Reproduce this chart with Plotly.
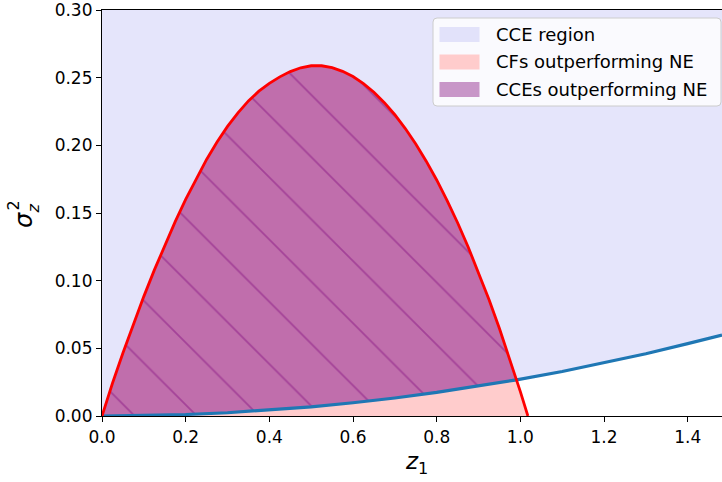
import numpy as np
import plotly.graph_objects as go

# ---- data -------------------------------------------------------------
# lower boundary of the CCE region (blue curve)
blue_z = [0.0, 0.1, 0.2, 0.3, 0.4, 0.5, 0.6, 0.7, 0.8, 0.9, 0.991,
          1.1, 1.2, 1.3, 1.4, 1.482]
blue_s = [0.0, 0.0003, 0.0011, 0.0024, 0.0044, 0.0068, 0.0098, 0.0133,
          0.0174, 0.0220, 0.0267, 0.0329, 0.0393, 0.0460, 0.0535, 0.0598]

# boundary of the region where CFs outperform NE (red curve)
red_z = [0.0, 0.01, 0.025, 0.05, 0.075, 0.1, 0.125, 0.15, 0.175, 0.2,
         0.225, 0.25, 0.275, 0.3, 0.325, 0.35, 0.375, 0.4, 0.425, 0.45,
         0.475, 0.5, 0.525, 0.55, 0.575, 0.6, 0.625, 0.65, 0.675, 0.7,
         0.725, 0.75, 0.775, 0.8, 0.825, 0.85, 0.875, 0.9, 0.925, 0.95,
         0.975, 0.991, 1.0, 1.018]
red_s = [0.0, 0.0100, 0.0242, 0.0466, 0.0680, 0.0884, 0.1078, 0.1262,
         0.1436, 0.1600, 0.1754, 0.1896, 0.2024, 0.2140, 0.2240, 0.2328,
         0.2400, 0.2458, 0.2506, 0.2545, 0.2573, 0.2588, 0.2588, 0.2574,
         0.2547, 0.2508, 0.2456, 0.2392, 0.2315, 0.2226, 0.2124, 0.2010,
         0.1883, 0.1744, 0.1592, 0.1428, 0.1251, 0.1062, 0.0860, 0.0646,
         0.0419, 0.0267, 0.0180, 0.0]

z_cross = 0.991          # where the two curves meet
y_top = 0.30

x_ticks = [0.0, 0.2, 0.4, 0.6, 0.8, 1.0, 1.2, 1.4]
y_ticks = [0.00, 0.05, 0.10, 0.15, 0.20, 0.25, 0.30]

legend_names = ["CCE region", "CFs outperforming NE", "CCEs outperforming NE"]
legend_colors = ["rgb(226,226,250)", "rgb(255,204,204)", "rgb(200,150,200)"]

# ---- styling ----------------------------------------------------------
W, H = 722, 482
ML, MR, MT, MB = 102, 0, 10, 66
FONT = "DejaVu Sans"
LAVENDER = "rgb(229,229,251)"
PINK = "rgb(255,204,204)"
PURPLE = "rgb(192,110,172)"
HATCH = "rgb(164,66,152)"
BLUE = "#1f77b4"
RED = "rgb(255,0,0)"

pw, ph = W - ML - MR, H - MT - MB


def px(xp):
    return (xp - ML) / pw


def py(yp):
    return (H - MB - yp) / ph


bz = np.array(blue_z)
bs = np.array(blue_s)
rz = np.array(red_z)
rs = np.array(red_s)

fig = go.Figure()

# CCE region: above the blue curve up to the top of the axes
fig.add_trace(go.Scatter(x=bz, y=bs, mode="lines", line=dict(width=0),
                         showlegend=False, hoverinfo="skip"))
fig.add_trace(go.Scatter(x=bz, y=[y_top] * len(bz), mode="lines",
                         line=dict(width=0), fill="tonexty", fillcolor=LAVENDER,
                         showlegend=False, hoverinfo="skip"))

# CFs outperforming NE: under the red curve
fig.add_trace(go.Scatter(x=rz, y=rs, mode="lines", line=dict(width=0),
                         fill="tozeroy", fillcolor=PINK,
                         showlegend=False, hoverinfo="skip"))

# CCEs outperforming NE: between blue and red curves (hatched)
bm = bz <= z_cross + 1e-9
rm = rz <= z_cross + 1e-9
fig.add_trace(go.Scatter(x=bz[bm], y=bs[bm], mode="lines",
                         line=dict(width=0),
                         showlegend=False, hoverinfo="skip"))
fig.add_trace(go.Scatter(x=rz[rm], y=rs[rm], mode="lines",
                         line=dict(width=0),
                         fill="tonexty", fillcolor=PURPLE,
                         fillpattern=dict(shape="\\", size=44, solidity=0.04,
                                          fgcolor=HATCH, bgcolor=PURPLE,
                                          fgopacity=1, fillmode="replace"),
                         showlegend=False, hoverinfo="skip"))

# curves
fig.add_trace(go.Scatter(x=bz, y=bs, mode="lines",
                         line=dict(color=BLUE, width=3.2),
                         showlegend=False))
fig.add_trace(go.Scatter(x=rz, y=rs, mode="lines",
                         line=dict(color=RED, width=2.8),
                         showlegend=False))

# ---- legend box drawn with shapes ------------------------------------
shapes = []
lx0, lx1, ly0, ly1, r = 433, 721, 18, 106, 4
rx, ry = r / pw, r / ph
X0, X1, Y0, Y1 = px(lx0), px(lx1), py(ly0), py(ly1)
path = (f"M {X0 + rx},{Y0} L {X1 - rx},{Y0} Q {X1},{Y0} {X1},{Y0 - ry} "
        f"L {X1},{Y1 + ry} Q {X1},{Y1} {X1 - rx},{Y1} "
        f"L {X0 + rx},{Y1} Q {X0},{Y1} {X0},{Y1 + ry} "
        f"L {X0},{Y0 - ry} Q {X0},{Y0} {X0 + rx},{Y0} Z")
shapes.append(dict(type="path", xref="paper", yref="paper", path=path,
                   fillcolor="rgba(255,255,255,0.8)",
                   line=dict(color="rgb(204,204,204)", width=1), layer="above"))

annotations = []
row_tops = [27, 54.5, 82]
for name, col, top in zip(legend_names, legend_colors, row_tops):
    shapes.append(dict(type="rect", xref="paper", yref="paper",
                       x0=px(439.5), x1=px(479.5), y0=py(top), y1=py(top + 15),
                       fillcolor=col, line=dict(width=0), layer="above"))
    annotations.append(dict(x=px(494), y=py(top + 7.5), xref="paper", yref="paper",
                            text=name, showarrow=False, xanchor="left",
                            yanchor="middle",
                            font=dict(family=FONT, size=18, color="black")))

# axis labels
annotations.append(dict(x=px(416), y=py(463), xref="paper", yref="paper",
                        text="<i>z</i><sub>1</sub>", showarrow=False,
                        xanchor="center", yanchor="middle",
                        font=dict(family=FONT, size=23, color="black")))
annotations.append(dict(x=px(24), y=py(220), xref="paper", yref="paper",
                        text="<i>σ</i>", showarrow=False, textangle=-90,
                        xanchor="center", yanchor="middle",
                        font=dict(family=FONT, size=24, color="black")))
annotations.append(dict(x=px(13), y=py(205.5), xref="paper", yref="paper",
                        text="2", showarrow=False, textangle=-90,
                        xanchor="center", yanchor="middle",
                        font=dict(family=FONT, size=16, color="black")))
annotations.append(dict(x=px(33), y=py(208.5), xref="paper", yref="paper",
                        text="<i>z</i>", showarrow=False, textangle=-90,
                        xanchor="center", yanchor="middle",
                        font=dict(family=FONT, size=16, color="black")))

axis_common = dict(showline=True, linecolor="black", linewidth=1.2, mirror=True,
                   ticks="outside", ticklen=5, tickwidth=1.2, tickcolor="black",
                   showgrid=False, zeroline=False, ticklabeloverflow="allow",
                   tickfont=dict(family=FONT, size=17, color="black"))

fig.update_layout(
    width=W, height=H,
    margin=dict(l=ML, r=MR, t=MT, b=MB),
    paper_bgcolor="white", plot_bgcolor="white",
    showlegend=False,
    shapes=shapes, annotations=annotations,
    xaxis=dict(range=[0, 1.482], tickvals=x_ticks,
               ticktext=[f"{v:.1f}" for v in x_ticks], **axis_common),
    yaxis=dict(range=[0, y_top], tickvals=y_ticks,
               ticktext=[f"{v:.2f}" for v in y_ticks], **axis_common),
)

fig.write_html("out.html")
